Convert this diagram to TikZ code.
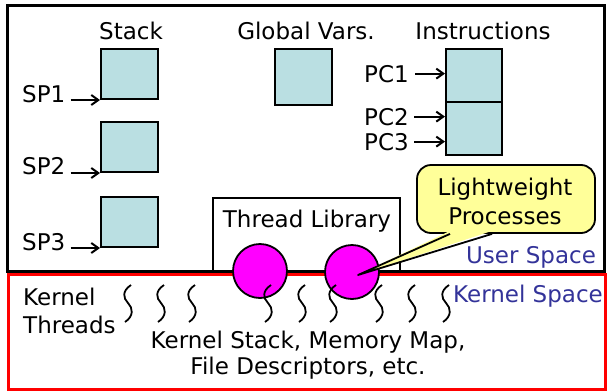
\documentclass[tikz,border=0pt]{standalone}
\usepackage{fontspec}
\setmainfont{DejaVu Sans}
\usetikzlibrary{calc,arrows.meta}
\definecolor{boxblue}{RGB}{186,223,226}
\definecolor{spaceblue}{RGB}{51,51,153}
\definecolor{noteyellow}{RGB}{255,255,153}
\definecolor{lwpmagenta}{RGB}{255,0,255}
\begin{document}
\begin{tikzpicture}[x=1pt,y=-1pt,
    every node/.style={font=\fontsize{23}{27}\selectfont, inner sep=0pt},
    membox/.style={draw, line width=2pt, fill=boxblue, minimum width=57pt, minimum height=50pt},
    lwp/.style={circle, draw, line width=1.8pt, fill=lwpmagenta, minimum size=54pt},
    note/.style={draw, line width=1.8pt, fill=noteyellow, rounded corners=14pt, minimum width=178pt, minimum height=68pt},
    ptr/.style={-{Straight Barb[length=7pt,width=10pt,line width=2pt]}, line width=2pt},
    kthread/.style={line width=1.8pt},
    spacelbl/.style={anchor=base, text=spaceblue}]
    \useasboundingbox (0,0) rectangle (607,391);

    % user space and kernel space
    \draw[red, line width=3pt] (8,274.5) rectangle (605,389);
    \draw[line width=3pt] (7,5) rectangle (604,271);

    % stacks
    \node[membox] (stk1) at (129.5,74) {};
    \node[membox] (stk2) at (129.5,147) {};
    \node[membox] (stk3) at (129.5,222) {};
    \node[anchor=base] (stacktxt) at (131,39) {Stack};
    \node[anchor=base west] (sp1) at (22,102) {SP1};
    \node[anchor=base west] (sp2) at (22,174) {SP2};
    \node[anchor=base west] (sp3) at (22,250) {SP3};
    \draw[ptr] ([xshift=5pt]stk1.south west -| sp1.east) -- (stk1.south west);
    \draw[ptr] ([xshift=5pt]stk2.south west -| sp2.east) -- (stk2.south west);
    \draw[ptr] ([xshift=5pt]stk3.south west -| sp3.east) -- (stk3.south west);

    % globals
    \node[membox, minimum height=56pt] (glob) at (303.5,77) {};
    \node[anchor=base] (globtxt) at (306,39) {Global Vars.};

    % instructions
    \node[membox, minimum width=56pt, minimum height=53pt] (ins1) at (474,75.5) {};
    \node[membox, minimum width=56pt, minimum height=53pt] (ins2) at (474,128.5) {};
    \node[anchor=base] (instxt) at (483,39) {Instructions};
    \node[anchor=base east] (pc1) at (409,82) {PC1};
    \node[anchor=base east] (pc2) at (409,125) {PC2};
    \node[anchor=base east] (pc3) at (409,150) {PC3};
    \draw[ptr] ([xshift=6pt]pc1.east) -- (pc1.east -| ins1.west);
    \draw[ptr] ([xshift=5pt]pc2.east) -- (pc2.east -| ins2.west);
    \draw[ptr] ([xshift=5pt]pc3.east) -- (pc3.east -| ins2.west);

    % thread library
    \draw[line width=1.2pt] (213,271) |- (400,198) -- (400,271);
    \node[anchor=base] (libtxt) at (307,227) {Thread Library};

    \node[spacelbl] (usertxt) at (531,263) {User Space};
    \node[spacelbl] (kerneltxt) at (528,302) {Kernel Space};

    % lightweight processes
    \node[lwp] (lwp1) at (260,271) {};
    \node[lwp] (lwp2) at (352,272) {};

    % kernel threads
    \foreach \x in {128,161,192,268,302,333,379,412,446}
        \draw[kthread] (\x+3,285) .. controls (\x-6,291) and (\x-5,298) .. (\x,303)
            .. controls (\x+5,308) and (\x+6,316) .. (\x-3,322);

    \node[anchor=base west] (kt1) at (23,305) {Kernel};
    \node[anchor=base west] (kt2) at (23,333) {Threads};
    \node[anchor=base] (kstack) at (308,348) {Kernel Stack, Memory Map,};
    \node[anchor=base] (kfiles) at (308,374) {File Descriptors, etc.};

    % callout
    \node[note] (lwpnote) at (506,199) {};
    \coordinate (tip) at ($(lwp2.center)+(6,3)$);
    \fill[noteyellow] ($(lwpnote.south)+(-56,-3)$) -- (tip) -- ($(lwpnote.south)+(-14,-3)$) -- cycle;
    \draw[line width=1.8pt, line join=round] ($(lwpnote.south)+(-56,0)$) -- (tip) -- ($(lwpnote.south)+(-14,0)$);
    \node[anchor=base] (lwt1) at (505,195) {Lightweight};
    \node[anchor=base] (lwt2) at (505,224) {Processes};
\end{tikzpicture}
\end{document}
